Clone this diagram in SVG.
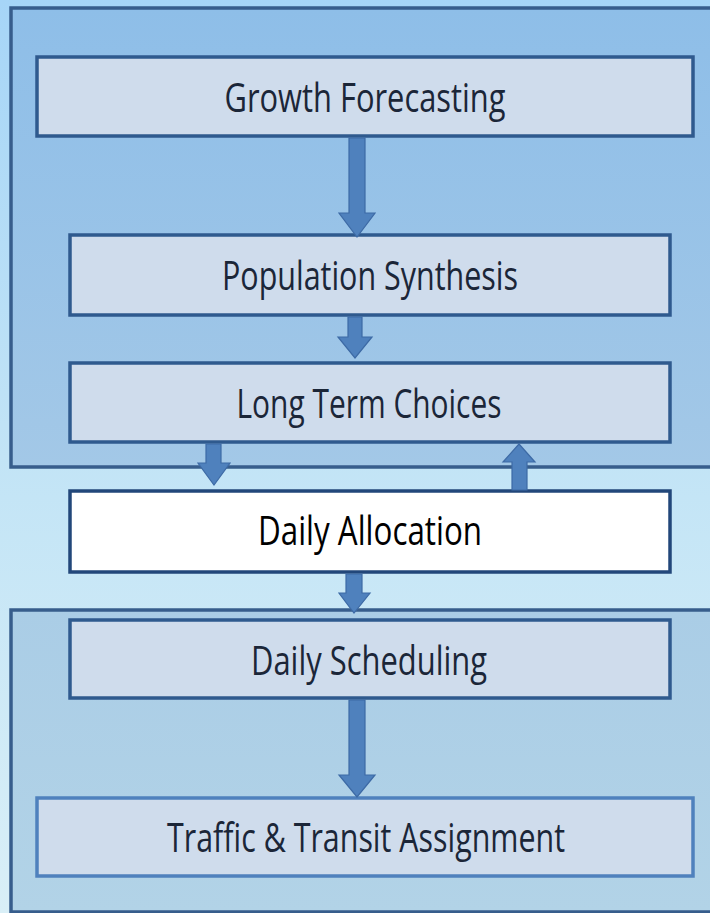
<svg xmlns="http://www.w3.org/2000/svg" width="710" height="913" viewBox="0 0 710 913">
<defs>
<linearGradient id="bg" x1="0" y1="0" x2="0" y2="1">
<stop offset="0" stop-color="#a6d5f7"/>
<stop offset="0.5" stop-color="#c2e4f6"/>
<stop offset="1" stop-color="#d9eff7"/>
</linearGradient>
<linearGradient id="top" x1="0" y1="0" x2="0" y2="1">
<stop offset="0" stop-color="#8ebee8"/>
<stop offset="1" stop-color="#a3c8e7"/>
</linearGradient>
<linearGradient id="bot" x1="0" y1="0" x2="0" y2="1">
<stop offset="0" stop-color="#aacde6"/>
<stop offset="1" stop-color="#b2d3e7"/>
</linearGradient>
</defs>
<style>
.box{fill:#cfdcec;stroke:#2f5a8e;stroke-width:3.5}
.white{fill:#ffffff;stroke:#22477a;stroke-width:3.5}
.light{fill:#cfdcec;stroke:#4f81bd;stroke-width:3.5}
.panel{stroke:#375d8c;stroke-width:3.5}
.arrow{fill:#4f81bd;stroke:#3d6aa5;stroke-width:1.2}
.t{font-family:"Open Sans","Liberation Sans",sans-serif;font-size:41px;fill:#1b2638;text-anchor:middle}
</style>
<rect x="0" y="0" width="710" height="913" fill="url(#bg)"/>
<g id="panel-top"><rect class="panel" x="11" y="8" width="712" height="459" fill="url(#top)"/></g>
<g id="panel-bottom"><rect class="panel" x="11" y="610" width="712" height="302" fill="url(#bot)"/></g>
<g id="growth">
<rect class="box" x="37" y="57" width="656" height="79"/>
<text class="t" x="365" y="112" textLength="281" lengthAdjust="spacingAndGlyphs">Growth Forecasting</text>
</g>
<g id="population">
<rect class="box" x="70" y="235" width="600" height="80"/>
<text class="t" x="370" y="290" textLength="296" lengthAdjust="spacingAndGlyphs">Population Synthesis</text>
</g>
<g id="longterm">
<rect class="box" x="70" y="363" width="600" height="79"/>
<text class="t" x="369" y="418" textLength="265" lengthAdjust="spacingAndGlyphs">Long Term Choices</text>
</g>
<g id="allocation">
<rect class="white" x="70" y="491" width="600" height="81"/>
<text class="t" x="370" y="545" textLength="224" lengthAdjust="spacingAndGlyphs" style="fill:#000000">Daily Allocation</text>
</g>
<g id="scheduling">
<rect class="box" x="70" y="620" width="600" height="78"/>
<text class="t" x="369" y="675" textLength="236" lengthAdjust="spacingAndGlyphs">Daily Scheduling</text>
</g>
<g id="assignment">
<rect class="light" x="37" y="798" width="656" height="78"/>
<text class="t" x="366" y="852" textLength="398" lengthAdjust="spacingAndGlyphs">Traffic &amp; Transit Assignment</text>
</g>
<g id="connectors">
<polygon class="arrow" points="349,138 365,138 365,213 375,213 357,237 339,213 349,213"/>
<polygon class="arrow" points="348,317 362,317 362,337 372,337 355,358 338,337 348,337"/>
<polygon class="arrow" points="206,444 221,444 221,463 230,463 214,485 198,463 206,463"/>
<polygon class="arrow" points="512,490 527,490 527,462 535,462 519,444 503,462 512,462"/>
<polygon class="arrow" points="346,574 362,574 362,593 370,593 354,613 339,593 346,593"/>
<polygon class="arrow" points="349,700 365,700 365,775 375,775 357,797 339,775 349,775"/>
</g>
</svg>
